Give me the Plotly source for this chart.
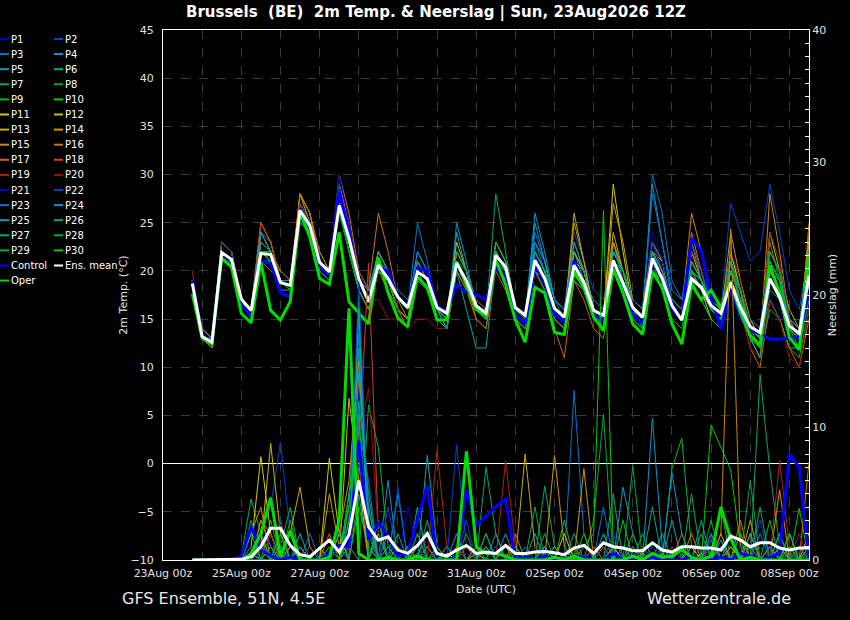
import pandas as pd
import plotly.graph_objects as go

# 6-hourly output of the 23Aug2026 12Z run: 23Aug 18Z ... 08Sep 12Z (64 steps)
steps = pd.date_range("2026-08-23 18:00", periods=64, freq="6h")

# ---- 2m temperature (degC) ----
MEAN_T = [18.7,
          13.2, 12.6, 21.9, 21.2, 17.1, 15.9, 21.8, 21.7, 18.8, 18.5, 26.3, 24.7,
          20.9, 19.9, 26.8, 23.4, 19.2, 16.8, 20.6, 19.2, 17.3, 16.2, 19.9, 19.2,
          16.2, 15.6, 20.8, 19.0, 16.4, 15.6, 21.6, 20.4, 16.2, 15.4, 21.1, 19.2,
          16.1, 15.2, 20.6, 18.8, 15.9, 15.4, 21.1, 18.7, 16.2, 15.2, 21.3, 19.2,
          16.4, 14.9, 19.2, 18.3, 16.4, 15.6, 18.8, 16.2, 14.2, 13.6, 19.2, 17.3,
          14.3, 13.5, 19.5]
CTRL_T = [19.0,
          13.3, 12.7, 21.5, 20.5, 16.5, 15.3, 21.0, 20.8, 17.7, 17.3, 26.0, 24.5,
          20.5, 19.5, 28.2, 24.0, 19.0, 16.8, 20.4, 20.0, 17.2, 16.3, 20.3, 20.0,
          16.3, 15.8, 18.5, 17.8, 17.5, 17.0, 20.3, 19.5, 15.5, 14.5, 20.6, 18.8,
          15.4, 14.8, 21.1, 18.5, 15.5, 14.8, 21.0, 18.5, 15.5, 14.5, 21.2, 19.0,
          16.0, 14.9, 23.4, 22.1, 17.3, 14.0, 18.0, 15.2, 13.8, 13.5, 12.9, 12.9,
          13.0, 13.2, 18.0]
OPER_T = [17.6,
          13.0, 12.4, 21.3, 20.4, 15.6, 14.6, 20.9, 15.9, 14.9, 16.8, 26.1, 23.5,
          19.2, 18.6, 24.0, 16.8, 15.6, 14.5, 21.4, 17.7, 15.1, 14.2, 19.4, 18.3,
          14.9, 14.9, 21.0, 18.5, 16.0, 15.4, 21.1, 18.6, 14.9, 12.6, 18.3, 17.7,
          13.6, 13.4, 19.9, 18.3, 15.2, 13.8, 20.2, 17.7, 14.5, 13.4, 19.9, 18.3,
          14.5, 12.4, 18.6, 17.0, 18.0, 16.2, 18.8, 15.6, 13.3, 12.3, 20.6, 17.7,
          13.1, 11.8, 21.8]

P1_T = [19, 13, 12, 22, 21, 17, 16, 23, 22, 18, 18, 27, 25, 21, 20, 28, 24, 19, 17, 22, 20, 17, 16, 21, 20,
        16, 15, 22, 20, 17, 16, 23, 21, 16, 15, 22, 19, 16, 14, 20, 18, 15, 14, 22, 20, 17, 16, 24, 21,
        17, 15, 20, 18, 15, 14, 18, 15, 13, 12, 17, 16, 13, 12, 18]
P2_T = [19, 13, 13, 22, 21, 17, 16, 22, 21, 19, 19, 26, 25, 21, 20, 28, 23, 18, 16, 20, 19, 17, 16, 19, 18,
        15, 15, 20, 18, 16, 15, 21, 19, 15, 14, 23, 21, 17, 16, 24, 21, 18, 17, 22, 20, 16, 15, 20, 19,
        17, 16, 22, 20, 17, 16, 27, 24, 21, 22, 29, 24, 18, 16, 22]
P3_T = [19, 13, 13, 21, 21, 17, 16, 22, 22, 19, 18, 25, 25, 21, 20, 29, 24, 19, 17, 20, 19, 17, 16, 25, 21,
        16, 15, 21, 19, 16, 15, 22, 20, 16, 15, 24, 21, 17, 15, 22, 20, 16, 15, 21, 19, 16, 15, 30, 26,
        19, 17, 21, 19, 16, 15, 19, 17, 15, 13, 20, 18, 14, 13, 22]
P4_T = [19, 13, 13, 22, 21, 17, 16, 23, 22, 19, 19, 26, 24, 21, 20, 27, 23, 19, 17, 21, 19, 18, 17, 20, 19,
        16, 16, 21, 19, 16, 16, 21, 19, 16, 15, 25, 21, 16, 15, 21, 19, 17, 16, 22, 20, 17, 16, 29, 23,
        17, 16, 20, 18, 16, 15, 20, 18, 14, 13, 21, 19, 15, 14, 23]
P5_T = [19, 13, 13, 22, 21, 17, 16, 24, 23, 19, 18, 27, 25, 22, 20, 28, 24, 20, 18, 22, 20, 17, 16, 19, 18,
        16, 15, 24, 20, 16, 15, 21, 20, 16, 15, 23, 21, 17, 16, 22, 19, 15, 14, 21, 19, 16, 15, 22, 19,
        16, 15, 19, 18, 16, 16, 22, 18, 14, 13, 17, 15, 12, 12, 17]
P6_T = [19, 13, 13, 22, 21, 17, 16, 22, 21, 19, 18, 26, 24, 20, 19, 27, 23, 19, 18, 21, 19, 17, 16, 20, 19,
        16, 16, 20, 19, 16, 15, 23, 21, 16, 15, 21, 19, 16, 15, 22, 20, 16, 15, 23, 19, 16, 14, 21, 20,
        17, 16, 20, 18, 16, 15, 19, 16, 13, 12, 19, 17, 13, 12, 19]
P7_T = [19, 13, 12, 21, 21, 17, 15, 22, 21, 18, 18, 25, 24, 20, 19, 26, 23, 19, 17, 21, 19, 16, 15, 20, 18,
        15, 14, 20, 19, 16, 15, 28, 22, 16, 15, 20, 18, 15, 14, 20, 18, 15, 14, 21, 18, 16, 15, 20, 19,
        16, 15, 21, 19, 17, 16, 18, 16, 14, 13, 18, 17, 14, 13, 20]
P8_T = [19, 14, 13, 22, 21, 17, 16, 21, 21, 19, 18, 26, 24, 21, 20, 26, 23, 20, 18, 20, 19, 17, 16, 19, 18,
        16, 15, 20, 19, 16, 15, 21, 19, 16, 15, 20, 18, 15, 14, 19, 18, 15, 14, 20, 18, 16, 15, 20, 18,
        16, 15, 19, 18, 16, 16, 21, 17, 15, 14, 23, 19, 13, 12, 18]
P9_T = [19, 13, 13, 22, 21, 17, 16, 22, 22, 19, 18, 26, 25, 21, 20, 27, 22, 18, 16, 21, 19, 17, 16, 20, 19,
        16, 15, 21, 20, 17, 16, 22, 20, 16, 15, 20, 18, 15, 14, 19, 18, 15, 14, 20, 18, 15, 14, 21, 18,
        16, 15, 19, 17, 15, 14, 18, 16, 13, 11, 16, 15, 12, 11, 16]
P10_T = [19, 13, 13, 21, 21, 17, 16, 22, 22, 19, 18, 26, 25, 21, 20, 27, 22, 18, 16, 20, 19, 17, 16, 21, 19,
         16, 15, 22, 20, 16, 15, 22, 20, 16, 15, 21, 19, 16, 15, 20, 19, 16, 15, 20, 19, 16, 15, 21, 19,
         16, 15, 20, 18, 16, 15, 20, 17, 14, 13, 21, 19, 14, 13, 21]
P11_T = [19, 13, 13, 23, 22, 17, 16, 23, 22, 19, 18, 27, 25, 21, 20, 28, 24, 19, 17, 21, 19, 17, 16, 20, 19,
         16, 15, 20, 19, 16, 15, 21, 19, 16, 15, 21, 19, 16, 15, 22, 20, 16, 15, 29, 22, 16, 15, 22, 20,
         16, 15, 20, 18, 15, 14, 22, 18, 13, 12, 20, 18, 14, 13, 21]
P12_T = [19, 13, 13, 23, 22, 17, 16, 22, 22, 19, 18, 28, 25, 21, 20, 27, 23, 18, 16, 21, 19, 16, 15, 20, 19,
         16, 15, 23, 20, 16, 15, 22, 20, 16, 15, 21, 19, 16, 15, 21, 20, 16, 15, 23, 20, 17, 16, 22, 20,
         16, 15, 22, 19, 16, 15, 20, 17, 14, 13, 24, 20, 15, 14, 22]
P13_T = [19, 13, 13, 22, 21, 17, 16, 23, 22, 20, 19, 28, 26, 21, 20, 28, 24, 19, 17, 21, 19, 17, 16, 20, 19,
         16, 15, 21, 19, 16, 15, 22, 20, 16, 15, 22, 20, 16, 15, 26, 21, 16, 15, 24, 20, 17, 16, 22, 21,
         16, 15, 20, 18, 16, 15, 19, 17, 14, 13, 22, 20, 16, 14, 23]
P14_T = [19, 13, 13, 22, 21, 17, 16, 24, 22, 19, 18, 27, 25, 21, 20, 28, 23, 19, 17, 22, 20, 17, 16, 21, 19,
         16, 15, 22, 20, 16, 15, 23, 21, 16, 15, 21, 19, 16, 15, 25, 21, 16, 15, 27, 23, 17, 16, 23, 21,
         17, 16, 22, 20, 16, 15, 24, 19, 15, 13, 21, 19, 14, 13, 22]
P15_T = [19, 14, 13, 23, 22, 17, 16, 25, 23, 19, 18, 28, 26, 21, 20, 29, 25, 19, 17, 21, 19, 16, 15, 19, 18,
         15, 14, 20, 19, 16, 15, 21, 19, 15, 14, 20, 19, 15, 14, 22, 20, 16, 14, 23, 20, 16, 15, 20, 19,
         17, 16, 26, 22, 17, 16, 21, 18, 14, 12, 28, 22, 15, 13, 24]
P16_T = [19, 13, 12, 22, 21, 17, 15, 21, 20, 19, 18, 28, 26, 22, 20, 30, 26, 20, 18, 26, 22, 17, 15, 20, 19,
         15, 14, 20, 18, 15, 14, 21, 19, 16, 15, 21, 19, 15, 14, 20, 19, 16, 15, 21, 19, 16, 15, 21, 19,
         16, 15, 24, 20, 16, 15, 18, 16, 13, 11, 20, 18, 13, 12, 25]
P17_T = [19, 13, 13, 22, 21, 17, 16, 24, 22, 19, 18, 27, 25, 21, 20, 27, 23, 18, 16, 20, 18, 16, 14, 19, 18,
         15, 14, 20, 19, 15, 14, 20, 18, 15, 14, 20, 18, 14, 11, 19, 17, 14, 13, 20, 18, 15, 14, 20, 18,
         16, 15, 23, 19, 16, 15, 19, 16, 12, 10, 17, 15, 12, 10, 15]
P18_T = [19, 13, 13, 22, 21, 17, 16, 25, 23, 19, 18, 27, 25, 21, 20, 29, 25, 19, 17, 22, 20, 17, 16, 21, 19,
         16, 15, 22, 20, 16, 15, 22, 20, 16, 15, 22, 20, 16, 15, 21, 19, 15, 14, 21, 19, 16, 15, 21, 20,
         16, 15, 22, 20, 16, 15, 21, 17, 13, 12, 22, 20, 14, 13, 20]
P19_T = [20, 13, 13, 22, 21, 17, 16, 23, 22, 19, 18, 27, 25, 21, 20, 28, 24, 20, 18, 21, 19, 17, 16, 20, 19,
         16, 15, 21, 19, 17, 16, 22, 20, 15, 14, 21, 19, 15, 14, 20, 18, 15, 14, 21, 19, 16, 15, 22, 20,
         16, 15, 22, 20, 16, 15, 22, 19, 14, 13, 24, 21, 15, 14, 20]
P20_T = [19, 13, 13, 22, 21, 17, 16, 22, 22, 19, 18, 26, 25, 21, 20, 27, 23, 19, 17, 17, 15, 15, 14, 15, 15,
         14, 14, 20, 19, 16, 15, 21, 19, 16, 15, 20, 18, 15, 14, 19, 18, 15, 14, 21, 19, 16, 15, 22, 20,
         16, 15, 20, 18, 16, 15, 19, 16, 12, 11, 17, 15, 11, 10, 16]
P21_T = [19, 13, 13, 22, 21, 17, 16, 22, 21, 19, 18, 26, 25, 21, 20, 30, 25, 19, 17, 21, 19, 17, 16, 20, 19,
         16, 15, 20, 19, 16, 15, 21, 19, 16, 15, 21, 19, 16, 15, 21, 19, 16, 15, 22, 20, 16, 15, 21, 21,
         17, 16, 23, 20, 16, 15, 21, 18, 14, 13, 21, 19, 14, 13, 21]
P22_T = [19, 13, 13, 23, 22, 17, 16, 22, 22, 19, 18, 27, 25, 21, 20, 29, 24, 19, 17, 21, 20, 17, 16, 21, 19,
         16, 15, 21, 19, 16, 15, 22, 20, 16, 15, 22, 20, 16, 15, 21, 19, 16, 15, 22, 20, 16, 15, 23, 20,
         17, 16, 20, 19, 16, 15, 20, 17, 15, 14, 22, 20, 15, 14, 22]
P23_T = [19, 13, 13, 22, 21, 17, 16, 22, 22, 19, 18, 26, 24, 21, 20, 28, 24, 19, 17, 21, 20, 17, 16, 22, 20,
         16, 15, 22, 20, 16, 15, 22, 20, 16, 15, 23, 20, 16, 15, 21, 19, 16, 15, 22, 20, 17, 16, 28, 23,
         18, 17, 23, 20, 16, 15, 21, 18, 14, 13, 20, 18, 14, 13, 20]
P24_T = [19, 13, 13, 22, 21, 17, 16, 24, 22, 19, 18, 26, 24, 21, 20, 27, 23, 19, 17, 21, 20, 17, 16, 22, 20,
         16, 14, 25, 21, 16, 15, 21, 20, 16, 15, 26, 22, 17, 16, 23, 20, 16, 15, 22, 20, 16, 15, 22, 20,
         16, 15, 21, 19, 16, 15, 20, 17, 14, 13, 21, 19, 15, 14, 22]
P25_T = [19, 13, 13, 22, 21, 17, 16, 23, 22, 19, 18, 26, 24, 21, 20, 27, 23, 19, 18, 21, 20, 17, 16, 20, 19,
         16, 14, 20, 16, 12, 12, 21, 19, 16, 15, 22, 20, 16, 15, 21, 19, 16, 15, 22, 20, 16, 15, 22, 20,
         16, 15, 20, 18, 16, 15, 19, 16, 13, 11, 19, 17, 14, 12, 19]
P26_T = [19, 13, 13, 22, 21, 17, 16, 22, 22, 19, 18, 26, 24, 21, 20, 27, 23, 19, 17, 22, 20, 17, 16, 21, 19,
         16, 15, 21, 19, 16, 15, 22, 20, 16, 15, 22, 20, 16, 15, 23, 20, 16, 15, 22, 20, 16, 15, 21, 19,
         16, 15, 21, 19, 16, 15, 21, 18, 14, 13, 20, 19, 14, 13, 21]
P27_T = [19, 13, 13, 22, 21, 17, 16, 22, 21, 19, 18, 26, 24, 21, 20, 27, 22, 18, 16, 21, 19, 17, 16, 20, 19,
         16, 15, 22, 20, 16, 15, 23, 21, 16, 15, 21, 19, 16, 15, 21, 19, 16, 15, 21, 19, 16, 15, 21, 19,
         17, 16, 20, 19, 16, 15, 18, 16, 13, 12, 19, 17, 13, 12, 19]
P28_T = [19, 13, 13, 21, 21, 17, 16, 21, 21, 19, 18, 25, 24, 21, 20, 26, 22, 18, 16, 20, 19, 16, 15, 19, 18,
         15, 14, 21, 19, 16, 15, 21, 19, 15, 14, 20, 18, 15, 14, 19, 18, 15, 14, 20, 18, 15, 14, 20, 18,
         15, 14, 20, 18, 16, 15, 21, 18, 14, 13, 20, 18, 13, 12, 19]
P29_T = [19, 13, 13, 22, 21, 17, 16, 22, 21, 19, 18, 26, 24, 21, 20, 27, 23, 18, 16, 20, 19, 17, 16, 20, 19,
         16, 15, 21, 19, 16, 15, 22, 20, 16, 15, 21, 19, 15, 14, 20, 18, 15, 14, 20, 18, 16, 15, 20, 18,
         16, 15, 19, 17, 15, 14, 19, 17, 13, 12, 21, 19, 13, 12, 20]
P30_T = [19, 13, 13, 22, 21, 17, 16, 22, 22, 19, 18, 26, 25, 21, 20, 27, 23, 19, 17, 21, 19, 17, 16, 20, 19,
         16, 15, 21, 19, 16, 15, 22, 20, 16, 15, 21, 20, 16, 15, 21, 19, 16, 15, 21, 20, 16, 15, 21, 19,
         16, 15, 20, 19, 17, 16, 20, 18, 14, 13, 22, 20, 14, 13, 22]

# ---- 6-hourly precipitation (mm) ----
MEAN_R = [0, 0, 0, 0, 0, 0.05, 0.25, 1.0, 2.4, 2.4, 1.1, 0.4, 0.25, 0.9, 1.5, 0.6, 1.9,
          6.0, 2.5, 1.5, 1.75, 0.75, 0.5, 1.1, 2.0, 0.5, 0.3, 0.75, 1.1, 0.5, 0.6, 0.5, 1.1,
          0.5, 0.5, 0.6, 0.65, 0.55, 0.4, 0.9, 1.1, 0.5, 1.3, 1.0, 0.9, 0.7, 0.7, 1.3, 0.75,
          0.6, 1.0, 1.0, 0.9, 0.9, 0.75, 1.8, 1.5, 1.0, 1.3, 1.3, 0.9, 0.75, 0.9, 0.9]
CTRL_R = [0, 0, 0, 0, 0, 0.3, 2.5, 0.8, 0.3, 0, 0.2, 0, 0, 0, 0.5, 1.1, 1.0,
          9.0, 1.5, 2.8, 1.8, 0.3, 0.5, 3.0, 5.6, 0, 0, 0.2, 5.3, 2.6, 3.3, 4.0, 4.6,
          0, 0.2, 0, 0.3, 0, 0, 0.3, 0.2, 0, 0, 0.5, 0, 0, 0, 0.2, 0,
          0, 0, 0.3, 0, 0, 0.2, 0, 0.5, 0.3, 0, 0.2, 0.5, 8.0, 7.0, 0]
OPER_R = [0, 0, 0, 0, 0, 0, 0.5, 2.0, 4.7, 0.3, 2.2, 0, 0, 0, 0.2, 3.0, 19.0,
          0.5, 0, 0, 0.2, 0, 0, 0.3, 0, 0, 0, 0, 8.2, 1.0, 0.5, 0.5, 0.3,
          0, 0, 0, 0, 0.2, 0, 0.3, 0, 0, 0, 0, 0, 0.3, 0, 0.5, 0.2,
          0.3, 0.8, 0.2, 0, 0.3, 4.0, 1.6, 0, 0.2, 0, 0, 0, 0, 0, 0]

# members: rainy steps only {step number: mm}, every other step is dry
P1_R = {6: 1.5, 7: 3, 8: 1, 12: 0.5, 16: 2, 17: 8, 18: 3, 22: 1, 23: 2, 28: 0.5, 33: 0.3, 40: 1, 47: 0.5, 52: 1, 57: 0.5, 61: 2, 62: 1}
P2_R = {7: 2, 8: 4, 9: 8.9, 10: 2, 16: 1, 17: 18, 18: 2, 21: 5.5, 24: 1, 27: 8.7, 28: 1, 34: 0.5, 39: 1, 45: 0.5, 55: 2, 59: 1, 62: 0.5}
P3_R = {6: 0.5, 8: 2, 15: 1, 16: 4, 17: 17, 18: 4, 20: 1, 25: 0.5, 31: 1, 39: 12.8, 40: 2, 46: 1, 53: 1.5, 58: 2, 60: 1}
P4_R = {7: 1, 12: 1, 16: 3, 17: 20, 18: 2, 20: 6, 26: 1, 32: 2, 44: 5.5, 45: 2, 47: 10.7, 48: 1, 55: 1, 61: 0.5}
P5_R = {8: 1, 11: 2, 13: 1, 16: 2, 17: 16, 18: 3, 24: 7.9, 25: 1, 30: 2, 36: 1, 42: 2, 49: 3, 54: 1.5, 60: 2, 63: 1}
P6_R = {6: 2, 7: 1, 15: 2, 17: 5, 19: 3, 22: 1, 29: 0.5, 35: 2, 41: 1, 46: 1, 53: 2, 57: 1, 62: 1}
P7_R = {5: 0.3, 6: 4.6, 7: 2, 9: 1, 10: 4, 16: 3, 17: 6, 18: 2, 23: 1, 30: 7, 31: 2, 36: 5.6, 37: 1, 48: 1, 52: 2, 56: 1, 58: 14, 59: 6.8, 60: 1}
P8_R = {7: 1, 12: 1, 16: 5, 17: 12, 18: 1, 28: 2, 33: 1, 41: 3, 42: 11, 45: 7.1, 50: 1, 56: 2, 61: 1}
P9_R = {6: 1, 8: 3, 13: 1, 16: 1, 18: 11.7, 19: 8.5, 20: 1, 26: 1, 34: 1, 43: 1, 49: 6.9, 50: 9.2, 51: 1, 59: 1, 63: 0.5}
P10_R = {7: 2, 9: 0.5, 14: 1, 17: 4, 18: 1, 23: 0.5, 29: 1, 40: 1, 41: 2, 42: 26.4, 43: 1, 53: 10.2, 54: 8.5, 55: 6.8, 56: 1, 62: 3.9}
P11_R = {6: 1, 7: 7.8, 8: 2, 11: 1, 14: 7.7, 15: 2, 17: 10, 18: 2, 26: 0.5, 33: 1, 38: 2, 46: 0.5, 51: 1, 57: 2, 60: 1}
P12_R = {7: 1, 8: 8.8, 9: 2, 16: 12.2, 17: 6, 22: 1, 31: 1, 37: 1, 44: 1, 52: 0.5, 55: 1, 63: 2}
P13_R = {6: 0.5, 10: 2, 11: 5.5, 12: 1, 16: 3, 17: 9, 21: 1, 28: 1, 34: 8, 35: 1, 45: 1, 54: 2, 61: 1}
P14_R = {7: 3, 8: 2, 14: 5, 15: 1, 17: 14, 18: 3, 23: 1, 29: 0.5, 37: 7.9, 38: 1, 40: 6.9, 47: 1, 53: 1, 57: 3, 60: 5.3}
P15_R = {6: 2, 7: 4, 10: 1, 15: 2, 16: 6, 17: 15, 18: 2, 24: 1, 32: 1, 43: 1, 48: 0.5, 54: 2, 55: 25, 56: 1, 62: 1}
P16_R = {7: 3, 8: 1, 13: 1, 16: 4, 17: 8, 19: 2, 27: 1, 33: 2, 39: 1, 45: 1, 51: 2, 56: 3, 59: 1, 63: 7.4}
P17_R = {6: 1, 9: 3, 14: 2, 17: 11, 18: 1, 25: 1, 30: 1, 36: 1, 42: 1, 50: 2, 55: 1, 61: 2}
P18_R = {7: 1.5, 10: 1, 16: 2, 17: 8, 18: 22.4, 19: 2, 29: 1, 41: 1, 49: 1, 57: 1, 60: 1}
P19_R = {8: 2, 12: 1, 17: 7, 18: 2, 25: 8.3, 26: 1, 32: 7.5, 33: 1, 44: 1, 52: 1, 60: 7.5, 61: 1}
P20_R = {6: 1, 9: 1, 16: 2, 17: 9, 18: 13, 19: 2, 28: 1, 35: 1, 46: 1, 53: 1, 58: 1, 62: 2}
P21_R = {7: 2, 8: 1, 16: 3, 17: 13, 18: 1, 22: 4, 23: 1, 31: 1, 38: 0.5, 47: 1, 56: 1, 62: 1}
P22_R = {6: 1, 9: 3, 15: 1, 17: 21, 18: 2, 20: 4, 24: 2, 28: 3, 34: 1, 43: 2, 50: 1, 58: 3, 63: 1}
P23_R = {7: 1, 12: 2, 16: 2, 17: 10, 18: 6, 21: 5, 26: 1, 33: 1, 42: 4, 45: 1, 53: 2, 61: 2}
P24_R = {8: 1, 11: 1, 16: 2, 17: 14, 18: 3, 20: 2, 27: 2, 36: 1, 44: 1, 49: 6.6, 50: 2, 55: 2, 59: 1}
P25_R = {7: 1, 10: 1, 15: 2, 17: 19, 19: 3, 23: 4, 30: 1, 37: 1, 48: 2, 54: 1, 60: 2}
P26_R = {6: 0.5, 9: 1, 16: 3, 17: 7, 18: 4, 22: 1, 31: 2, 39: 2, 47: 4, 52: 3, 57: 2}
P27_R = {6: 3, 8: 1, 16: 2, 17: 12, 18: 5, 20: 1, 24: 3, 30: 2, 36: 2, 43: 5, 51: 5, 58: 4, 62: 1}
P28_R = {7: 2, 13: 1, 16: 4, 17: 6, 18: 3, 21: 2, 29: 1, 35: 4, 46: 2, 53: 3, 57: 6, 61: 1}
P29_R = {6: 2, 10: 3, 16: 2, 17: 11, 19: 2, 25: 1, 32: 1, 38: 3, 45: 2, 54: 4, 59: 3, 63: 1}
P30_R = {7: 1, 9: 2, 16: 5, 17: 9, 18: 1, 23: 2, 33: 1, 40: 2, 44: 3, 50: 1, 56: 2, 61: 2}

member_t = [P1_T, P2_T, P3_T, P4_T, P5_T, P6_T, P7_T, P8_T, P9_T, P10_T,
            P11_T, P12_T, P13_T, P14_T, P15_T, P16_T, P17_T, P18_T, P19_T, P20_T,
            P21_T, P22_T, P23_T, P24_T, P25_T, P26_T, P27_T, P28_T, P29_T, P30_T]
member_r = [P1_R, P2_R, P3_R, P4_R, P5_R, P6_R, P7_R, P8_R, P9_R, P10_R,
            P11_R, P12_R, P13_R, P14_R, P15_R, P16_R, P17_R, P18_R, P19_R, P20_R,
            P21_R, P22_R, P23_R, P24_R, P25_R, P26_R, P27_R, P28_R, P29_R, P30_R]

# P1..P20 palette, P21..P30 repeat the first ten
colors = ["#0000cc", "#0044cc", "#0077cc", "#0099cc", "#00aaaa", "#00aa88", "#00aa66", "#00aa44",
          "#00bb22", "#00cc00", "#cccc00", "#ccbb00", "#ccaa00", "#cc9900", "#cc8800", "#cc7700",
          "#cc6600", "#cc4422", "#aa2222", "#991111"]
CTRL_COL = "#0000ff"
OPER_COL = "#00dd00"
MEAN_COL = "#ffffff"

fig = go.Figure()
for i in range(30):
    c = colors[i % 20]
    rain = [member_r[i].get(k, 0) for k in range(len(steps))]
    fig.add_trace(go.Scatter(x=steps, y=member_t[i], mode="lines", line=dict(color=c, width=1)))
    fig.add_trace(go.Scatter(x=steps, y=rain, yaxis="y2", mode="lines", line=dict(color=c, width=1)))

for t, r, c in [(CTRL_T, CTRL_R, CTRL_COL), (OPER_T, OPER_R, OPER_COL), (MEAN_T, MEAN_R, MEAN_COL)]:
    fig.add_trace(go.Scatter(x=steps, y=t, mode="lines", line=dict(color=c, width=3)))
    fig.add_trace(go.Scatter(x=steps, y=r, yaxis="y2", mode="lines", line=dict(color=c, width=3)))

# plot box in pixels: x 163..809, y 30..560
L, R, T, B = 163, 809, 30, 560


def px(x):
    return (x - L) / (R - L)


def py(y):
    return (B - y) / (B - T)


# hand-made two column legend (left of the plot)
labels = [f"P{i + 1}" for i in range(30)] + ["Control", "Ens. mean", "Oper"]
lab_cols = [colors[i % 20] for i in range(30)] + [CTRL_COL, MEAN_COL, OPER_COL]
shapes = []
annos = []
for n, (lab, c) in enumerate(zip(labels, lab_cols)):
    row, col = n // 2, n % 2
    yy = 39 + 15.1 * row
    x0 = 0 if col == 0 else 54
    shapes.append(dict(type="line", xref="paper", yref="paper", x0=px(x0), x1=px(x0 + 9),
                       y0=py(yy), y1=py(yy), line=dict(color=c, width=2)))
    annos.append(dict(text=lab, xref="paper", yref="paper", x=px(x0 + 9), y=py(yy),
                      xanchor="left", yanchor="middle", showarrow=False,
                      font=dict(size=10, color="white")))

annos.append(dict(text="GFS Ensemble, 51N, 4.5E", xref="paper", yref="paper", x=px(120), y=py(598),
                  xanchor="left", yanchor="middle", showarrow=False, font=dict(size=16, color="#e8e8e8")))
annos.append(dict(text="Wetterzentrale.de", xref="paper", yref="paper", x=px(793), y=py(598),
                  xanchor="right", yanchor="middle", showarrow=False, font=dict(size=16, color="#e8e8e8")))

grid = "#3a3a3a"
fig.update_layout(
    width=850, height=620,
    paper_bgcolor="black", plot_bgcolor="black",
    margin=dict(l=L, r=850 - R, t=T, b=620 - B),
    showlegend=False,
    font=dict(family="DejaVu Sans", size=11, color="#e0e0e0"),
    title=dict(text="<b>Brussels\u00a0 (BE)\u00a0 2m Temp. & Neerslag | Sun, 23Aug2026 12Z</b>",
               xref="container", yref="container", x=436 / 850, y=1 - 12 / 620,
               xanchor="center", yanchor="middle", font=dict(size=15, color="white")),
    shapes=shapes,
    annotations=annos,
    xaxis=dict(range=["2026-08-23 00:00", "2026-09-08 12:00"], tick0="2026-08-23", dtick=2 * 86400000,
               tickformat="%d%b %Hz", showgrid=True, gridcolor=grid, griddash="dash",
               minor=dict(dtick=86400000, showgrid=True, gridcolor=grid, griddash="dash"),
               showline=True, linecolor="white", mirror=True,
               ticks="outside", ticklen=3, tickcolor="rgba(0,0,0,0)",
               title=dict(text="Date (UTC)", standoff=6, font=dict(size=11))),
    yaxis=dict(range=[-10, 45], dtick=5, showgrid=True, gridcolor=grid, griddash="dash",
               zeroline=True, zerolinecolor="white", zerolinewidth=1,
               showline=True, linecolor="white", mirror=True,
               ticks="outside", ticklen=6, tickcolor="rgba(0,0,0,0)",
               title=dict(text="2m Temp. (°C)", standoff=0, font=dict(size=11))),
    yaxis2=dict(overlaying="y", side="right", range=[0, 40], dtick=10, showgrid=False, zeroline=False,
                showline=True, linecolor="white", ticks="inside", ticklen=4, tickcolor="white",
                minor=dict(dtick=1, ticks="inside", ticklen=4, tickcolor="white", showgrid=False),
                title=dict(text="Neerslag (mm)", standoff=3, font=dict(size=11))),
)

# the page body has a default 8px margin; drop it so the figure fills the window
fig.write_html("out.html", config={"displayModeBar": False},
               post_script="document.body.style.margin = '0px';")
